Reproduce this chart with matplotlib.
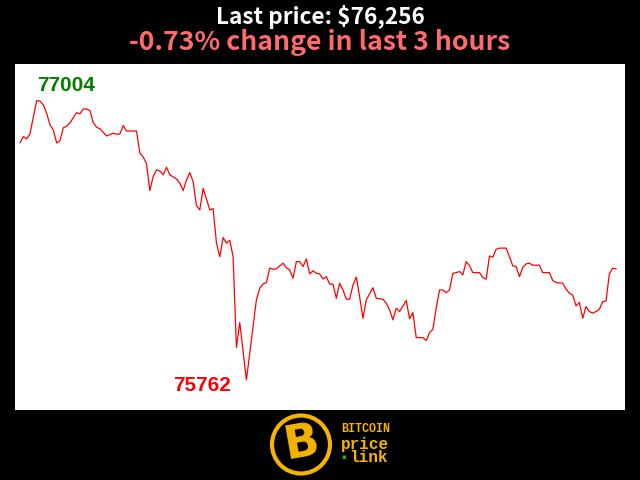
import matplotlib
matplotlib.use("Agg")
import matplotlib.pyplot as plt
from matplotlib.patches import Circle

# ---- data (minute index within last 3 hours, BTC price) ----
minutes = [0, 1, 2, 3, 5, 6, 7, 8, 9, 10, 11, 12, 13, 14, 15, 17, 18, 19, 20, 21,
           22, 23, 24, 26, 27, 28, 29, 30, 31, 32, 35, 36, 37, 38, 39, 40, 41, 42,
           43, 44, 45, 47, 48, 49, 50, 51, 52, 53, 54, 55, 56, 57, 58, 59, 60, 61,
           62, 63, 64, 65, 66, 68, 69, 71, 72, 73, 74, 75, 76, 77, 79, 80, 81, 82,
           83, 84, 85, 86, 87, 88, 89, 90, 91, 92, 93, 94, 95, 96, 97, 98, 99, 100,
           101, 102, 103, 104, 106, 107, 109, 110, 111, 112, 113, 114, 116, 117,
           118, 119, 121, 122, 123, 124, 125, 126, 127, 128, 129, 130, 131, 132,
           133, 134, 135, 136, 138, 139, 140, 141, 142, 143, 144, 146, 147, 148,
           149, 150, 151, 152, 153, 154, 156, 157, 159, 160, 161, 163, 164, 165,
           166, 167, 168, 169, 170, 171, 172, 173, 174, 175, 176, 177, 178, 179]
prices = [76817, 76844, 76834, 76856, 77004, 77002, 76985, 76948, 76896, 76874,
          76816, 76825, 76883, 76891, 76905, 76951, 76945, 76967, 76967, 76960,
          76906, 76886, 76879, 76847, 76853, 76859, 76855, 76855, 76893, 76869,
          76869, 76771, 76754, 76722, 76604, 76666, 76696, 76691, 76674, 76708,
          76674, 76656, 76637, 76604, 76651, 76684, 76644, 76537, 76518, 76614,
          76566, 76518, 76524, 76371, 76310, 76395, 76370, 76383, 76310, 75906,
          76017, 75762, 75882, 76118, 76170, 76189, 76195, 76259, 76254, 76256,
          76281, 76261, 76251, 76214, 76288, 76288, 76266, 76300, 76233, 76247,
          76236, 76233, 76211, 76221, 76188, 76188, 76125, 76192, 76162, 76121,
          76121, 76184, 76219, 76132, 76036, 76118, 76172, 76125, 76121, 76103,
          76073, 76029, 76081, 76066, 76115, 76034, 76061, 75950, 75950, 75937,
          75972, 75987, 76081, 76162, 76162, 76150, 76162, 76236, 76239, 76244,
          76229, 76288, 76270, 76239, 76239, 76217, 76210, 76313, 76308, 76343,
          76348, 76348, 76310, 76269, 76266, 76221, 76263, 76278, 76281, 76272,
          76272, 76239, 76239, 76204, 76195, 76192, 76165, 76148, 76139, 76091,
          76106, 76036, 76088, 76066, 76059, 76066, 76076, 76110, 76113, 76233,
          76259, 76256]

last_price = prices[-1]
change_pct = (prices[-1] - prices[0]) / prices[0] * 100
title1 = f"Last price: ${last_price:,}"
title2 = f"{change_pct:.2f}% change in last 3 hours"

fig = plt.figure(figsize=(6.4, 4.8), dpi=100, facecolor="black")
W, H = 640, 480
ax = fig.add_axes([15 / W, (H - 410) / H, 610 / W, 346 / H])
ax.set_facecolor("white")
ax.plot(minutes, prices, color="#ff0000", lw=0.9)
ax.set_xlim(-1.5, 181.7)
ax.set_ylim(75628, 77167)
ax.set_xticks([])
ax.set_yticks([])
for s in ax.spines.values():
    s.set_visible(False)

# max / min labels
imax = prices.index(max(prices))
imin = prices.index(min(prices))
ax.annotate(str(max(prices)), (minutes[imax], prices[imax]), xytext=(0.5, 7),
            textcoords="offset points", ha="left", va="baseline",
            color="#008000", fontsize=15, fontweight="bold",
            family="Liberation Sans")
ax.annotate(str(min(prices)), (minutes[imin], prices[imin]), xytext=(-11, -8),
            textcoords="offset points", ha="right", va="baseline",
            color="#ff0000", fontsize=15, fontweight="bold",
            family="Liberation Sans")

# titles
fig.text(0.5, 1 - 17 / H, title1, ha="center", va="center", color="white",
         fontsize=16.3, fontweight="bold", family=["Noto Sans CJK SC", "DejaVu Sans"])
fig.text(0.5, 1 - 43 / H, title2, ha="center", va="center", color="#ff6b6b",
         fontsize=19.2, fontweight="bold", family=["Noto Sans CJK SC", "DejaVu Sans"])

# logo
gold = "#f5b400"
ring = Circle((301, H - 444.5), 29, transform=None, facecolor="black",
              edgecolor=gold, lw=3.0)
fig.patches.append(ring)
fig.text(302 / W, 1 - 444 / H, "B", ha="center", va="center", color=gold,
         fontsize=33, fontweight="bold", rotation=10, family="DejaVu Sans")
mono = dict(family="Liberation Mono", fontweight="bold", color=gold,
            ha="left", va="center")
fig.text(341 / W, 1 - 429 / H, "BITCOIN", fontsize=8.5, **mono)
fig.text(341 / W, 1 - 444 / H, "price", fontsize=11.5, **mono)
fig.text(349 / W, 1 - 458 / H, "link", fontsize=11.5, **mono)
fig.text(344 / W, 1 - 457 / H, "\u25aa", family="DejaVu Sans", color="#22aa22",
         fontsize=5, ha="center", va="center")

fig.savefig("out.png", dpi=100, facecolor="black")
